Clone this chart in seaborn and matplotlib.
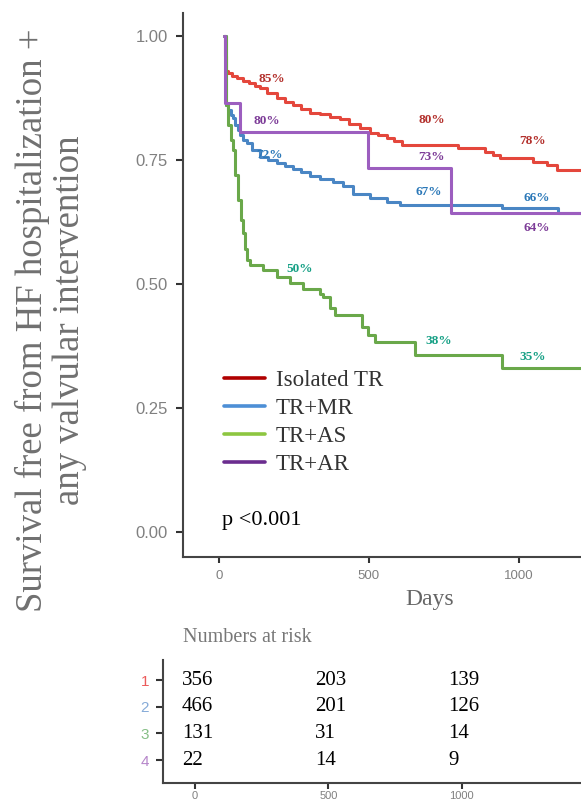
import matplotlib
matplotlib.use("Agg")
import matplotlib.pyplot as plt
from matplotlib.lines import Line2D
import pandas as pd
import seaborn as sns

# ---------------------------------------------------------
# Data
# ---------------------------------------------------------
groups = ["Isolated TR", "TR+MR", "TR+AS", "TR+AR"]

red_days = [18, 20, 24, 30, 45, 60, 80, 100, 120, 137, 160, 193, 220, 247, 275, 303,
            337, 370, 403, 435, 470, 503, 530, 560, 585, 610, 797, 887, 913, 937,
            1047, 1093, 1127, 1207]
red_surv = [1.00, 0.96, 0.93, 0.925, 0.92, 0.915, 0.91, 0.905, 0.90, 0.895, 0.885,
            0.875, 0.867, 0.86, 0.853, 0.845, 0.842, 0.837, 0.832, 0.823, 0.815,
            0.805, 0.80, 0.795, 0.788, 0.78, 0.774, 0.766, 0.76, 0.754, 0.746,
            0.74, 0.73, 0.73]

blue_days = [18, 22, 30, 40, 47, 55, 63, 70, 80, 93, 110, 137, 165, 193, 220, 247,
             275, 303, 337, 380, 413, 447, 503, 560, 603, 943, 1130, 1207]
blue_surv = [1.00, 0.86, 0.85, 0.84, 0.835, 0.82, 0.81, 0.80, 0.79, 0.785, 0.77,
             0.756, 0.75, 0.744, 0.738, 0.732, 0.725, 0.718, 0.712, 0.706, 0.698,
             0.682, 0.673, 0.665, 0.66, 0.653, 0.643, 0.643]

green_days = [18, 22, 30, 40, 47, 55, 63, 72, 80, 87, 93, 103, 147, 193, 237, 280,
              337, 347, 370, 387, 477, 497, 520, 653, 943, 1207]
green_surv = [1.00, 0.86, 0.82, 0.79, 0.77, 0.72, 0.67, 0.63, 0.603, 0.57, 0.548,
              0.538, 0.528, 0.514, 0.502, 0.49, 0.48, 0.474, 0.451, 0.4375, 0.413,
              0.397, 0.383, 0.357, 0.33, 0.33]

purple_days = [18, 20, 70, 497, 772, 1207]
purple_surv = [1.00, 0.864, 0.806, 0.734, 0.643, 0.643]

# percent annotations: (text, day, survival)
red_labels = [("85%", 177, 0.913), ("80%", 710, 0.83), ("78%", 1047, 0.788)]
blue_labels = [("72%", 170, 0.76), ("67%", 700, 0.685), ("66%", 1060, 0.673)]
green_labels = [("50%", 270, 0.53), ("38%", 733, 0.385), ("35%", 1047, 0.353)]
purple_labels = [("80%", 160, 0.829), ("73%", 707, 0.756), ("64%", 1060, 0.613)]

# numbers at risk
risk_times = [0, 500, 1000]
risk_rows = ["1", "2", "3", "4"]
risk_isolated = [356, 203, 139]
risk_mr = [466, 201, 126]
risk_as = [131, 31, 14]
risk_ar = [22, 14, 9]

# ---------------------------------------------------------
# Styling
# ---------------------------------------------------------
line_colors = ["#e4473c", "#4a86c4", "#6aa84a", "#9c5ebf"]
legend_colors = ["#b00000", "#4d8fd6", "#8dc641", "#6b2d8f"]
label_colors = ["#b3302c", "#2b78b8", "#16a085", "#7d3c98"]
row_colors = ["#ec5b5b", "#86abd8", "#86bf86", "#b585c9"]

sns.set_theme(style="ticks")
plt.rcParams["font.family"] = ["DejaVu Sans"]
serif = ["Liberation Serif", "DejaVu Serif"]
sans = ["Liberation Sans", "DejaVu Sans"]

frames = []
for name, d, s in zip(groups, [red_days, blue_days, green_days, purple_days],
                      [red_surv, blue_surv, green_surv, purple_surv]):
    frames.append(pd.DataFrame({"days": d, "surv": s, "group": name}))
km = pd.concat(frames, ignore_index=True)

fig = plt.figure(figsize=(5.81, 8.05), dpi=100)

# main survival axes
ax = fig.add_axes([183 / 581, 1 - 557 / 805, 1 - 183 / 581, 544 / 805])
for name, col in zip(groups, line_colors):
    sub = km[km["group"] == name]
    sns.lineplot(data=sub, x="days", y="surv", ax=ax, color=col, linewidth=2.2,
                 drawstyle="steps-post", estimator=None, sort=False, legend=False)

for labels, col in zip([red_labels, blue_labels, green_labels, purple_labels], label_colors):
    for txt, dx, sy in labels:
        ax.text(dx, sy, txt, color=col, fontsize=9.5, fontweight="bold",
                family=serif, ha="center", va="center")

ax.set_xlim(-120, 1207)
ax.set_ylim(-0.0504, 1.0464)
ax.set_yticks([0, 0.25, 0.5, 0.75, 1.0])
ax.set_yticklabels(["0.00", "0.25", "0.50", "0.75", "1.00"])
ax.set_xticks([0, 500, 1000])
ax.tick_params(axis="y", labelsize=12, colors="#333333", labelcolor="#808080",
               length=5, width=1.5, pad=6)
ax.tick_params(axis="x", labelsize=9.5, colors="#333333", labelcolor="#808080",
               length=4, width=1.5, pad=5)
for lab in ax.get_xticklabels() + ax.get_yticklabels():
    lab.set_family(sans)
sns.despine(ax=ax)
for sp in ["left", "bottom"]:
    ax.spines[sp].set_color("#444444")
    ax.spines[sp].set_linewidth(1.5)
ax.set_ylabel("")
ax.set_xlabel("Days", fontsize=17, family=serif, color="#666666")
ax.xaxis.set_label_coords((430 - 183) / 398, -0.058)
ax.xaxis.label.set_va("top")

handles = [Line2D([0], [0], color=c, lw=2.6) for c in legend_colors]
ax.legend(handles, groups, loc="upper left", bbox_to_anchor=(0.103, 0.343),
          frameon=False, prop={"family": serif, "size": 16.5}, labelcolor="#333333",
          handlelength=1.8, handletextpad=0.45, labelspacing=0.3, borderpad=0,
          borderaxespad=0)

ax.text(0.098, 0.068, "p <0.001", transform=ax.transAxes, fontsize=16,
        family=serif, color="black", ha="left", va="center")

fig.text(51 / 581, 1 - 320 / 805,
         "Survival free from HF hospitalization +\nany valvular intervention",
         rotation=90, ha="center", va="center", multialignment="center",
         fontsize=26.5, family=serif, color="#707070", linespacing=1.1)

# numbers at risk table
fig.text(183 / 581, 1 - 637 / 805, "Numbers at risk", fontsize=14.5, family=serif,
         color="#777777", ha="left", va="center")

tab = fig.add_axes([163 / 581, 1 - 783 / 805, 1 - 163 / 581, 123 / 805])
for i, vals in enumerate([risk_isolated, risk_mr, risk_as, risk_ar]):
    for t, v in zip(risk_times, vals):
        tab.text(t - 50, i + 1, str(v), fontsize=15, family=serif, color="black",
                 ha="left", va="center")
tab.set_xlim(-120, 1447)
tab.set_ylim(4.86, 0.25)
tab.set_xticks(risk_times)
tab.set_yticks([1, 2, 3, 4])
tab.set_yticklabels(risk_rows)
tab.tick_params(axis="y", labelsize=11, colors="#333333", length=5, width=1.5, pad=5)
tab.tick_params(axis="x", labelsize=8, colors="#333333", labelcolor="#808080",
                length=4, width=1.5, pad=2)
for lab, c in zip(tab.get_yticklabels(), row_colors):
    lab.set_color(c)
    lab.set_family(sans)
for lab in tab.get_xticklabels():
    lab.set_family(sans)
sns.despine(ax=tab)
for sp in ["left", "bottom"]:
    tab.spines[sp].set_color("#444444")
    tab.spines[sp].set_linewidth(1.5)

fig.savefig("out.png", dpi=100)
